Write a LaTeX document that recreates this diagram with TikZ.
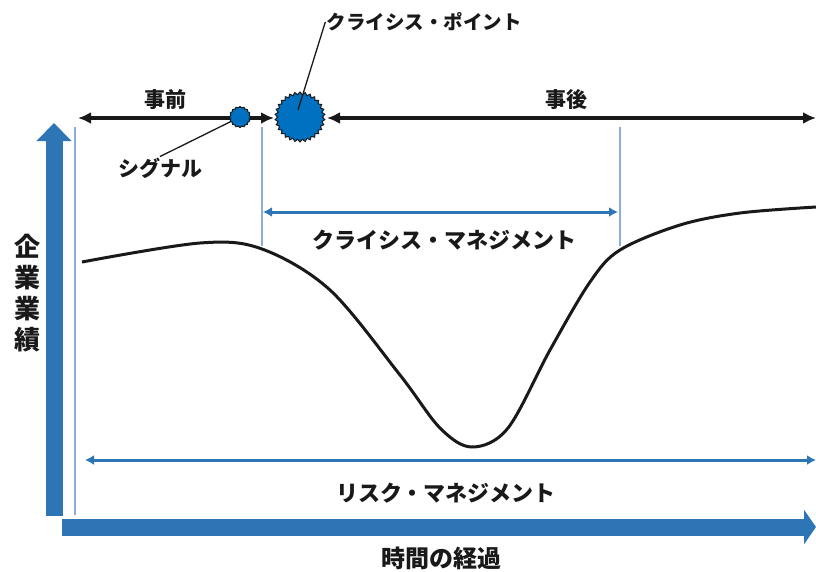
\documentclass[tikz,border=0pt]{standalone}
\usepackage{fontspec}
\newfontfamily\jp{Noto Sans CJK JP}
\usetikzlibrary{arrows.meta,shapes.geometric}
\definecolor{ablue}{RGB}{46,117,182}
\definecolor{cblue}{RGB}{0,112,192}
\definecolor{lblue}{RGB}{140,172,220}
\definecolor{ink}{RGB}{25,25,25}
\tikzset{
  txt/.style={inner sep=1pt, text=ink, font=\jp\bfseries\fontsize{#1}{#1}\selectfont},
  bigarrow/.style={draw=ablue, line width=17pt, -{Triangle[length=#1, width=34pt]}},
  blk/.style={draw=ink, line width=3.5pt, {Latex[length=13pt,width=12pt]}-{Latex[length=13pt,width=12pt]}},
  bluedbl/.style={draw=ablue, line width=3pt, {Latex[length=9pt,width=10pt]}-{Latex[length=9pt,width=10pt]}},
  thinline/.style={draw=lblue, line width=1.2pt},
  leader/.style={draw=ink, line width=1.3pt},
  burst/.style={star, star point ratio=1.12, inner sep=0pt, fill=cblue, draw=ink, line width=1pt},
  curve/.style={draw=ink, line width=3pt}
}
\begin{document}
\begin{tikzpicture}[x=1pt,y=-1pt]
\useasboundingbox (0,0) rectangle (816,571);

% thin light-blue guide lines
\coordinate (g0t) at (75,127); \coordinate (g0b) at (75,515);
\coordinate (g1t) at (262,127); \coordinate (g1b) at (262,246);
\coordinate (g2t) at (620,127); \coordinate (g2b) at (620,246);
\draw[thinline] (g0t) -- (g0b);
\draw[thinline] (g1t) -- (g1b);
\draw[thinline] (g2t) -- (g2b);

% axes
\coordinate (vb) at (54,516); \coordinate (vt) at (54,123);
\draw[bigarrow=18pt] (vb) -- (vt);
\coordinate (hb) at (62,527); \coordinate (he) at (816,527);
\draw[bigarrow=12pt] (hb) -- (he);

% performance curve
\draw[curve] plot[smooth, tension=0.55] coordinates {(82,262) (200,243) (262,249) (330,290) (400,375) (440,428) (472,447) (508,428) (550,350) (590,282) (620,250) (680,225) (740,213) (816,207)};

% crisis management arrow
\coordinate (cmL) at (263,212); \coordinate (cmR) at (618,212);
\draw[bluedbl] (cmL) -- (cmR);
% risk management arrow
\coordinate (rmL) at (85,460); \coordinate (rmR) at (816,460);
\draw[bluedbl] (rmL) -- (rmR);

% time line
\node[burst, star points=30, minimum size=50pt] (cp) at (300,117) {};
\coordinate (L) at (78,118); \coordinate (R) at (816,118);
\coordinate (cpW) at (274,118); \coordinate (cpE) at (327,118);
\draw[blk] (L) -- (cpW);
\draw[blk] (cpE) -- (R);

% labels
\node[txt=21] (pre) at (165,100) {事前};
\node[txt=21] (post) at (566,100) {事後};
\node[txt=21] (sigl) at (160,168) {シグナル};
\node[txt=19.5] (cpl) at (424,22) {クライシス・ポイント};
\node[txt=22] (cml) at (444,240) {クライシス・マネジメント};
\node[txt=22] (rml) at (446,493) {リスク・マネジメント};
\node[txt=24] (tl) at (441,558) {時間の経過};
\node[txt=26, align=center, font=\jp\bfseries\fontsize{26}{31}\selectfont] (yl) at (27,293) {企\\業\\業\\績};

% signal and leaders
\coordinate (sigc) at (240,117);
\draw[leader] (sigc) -- (sigl.north);
\node[burst, star points=16, minimum size=21pt] (sig) at (sigc) {};
\coordinate (cpc) at (298,110);
\draw[leader] (cpc) -- (cpl.west);
\end{tikzpicture}
\end{document}
